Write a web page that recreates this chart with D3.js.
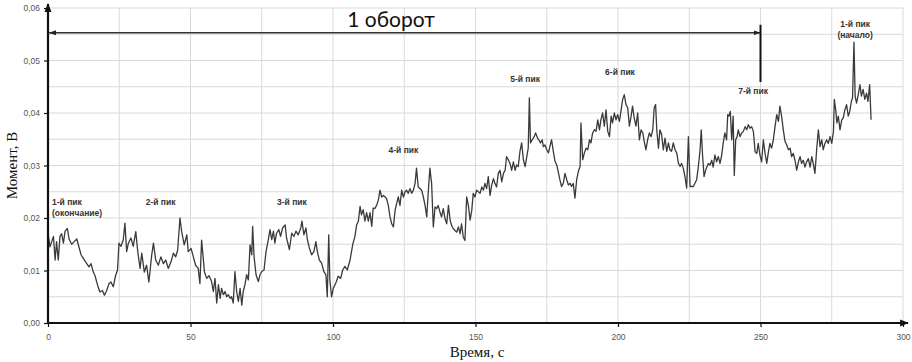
<!DOCTYPE html>
<html><head><meta charset="utf-8">
<script src="https://cdn.jsdelivr.net/npm/d3@7"></script>
<style>body{margin:0;background:#fff}svg{display:block}</style>
</head><body>
<script>
// ---- data ----
const times = [0.0,0.7,1.9,2.5,3.0,3.6,4.2,4.8,5.4,6.0,6.8,7.4,8.3,9.2,10.1,10.6,11.6,12.4,13.6,14.4,15.1,15.9,16.5,17.4,18.2,19.1,19.8,20.6,21.4,22.1,22.9,23.7,24.4,24.9,25.6,26.4,27.0,27.6,28.2,29.1,29.9,30.8,31.5,32.3,32.9,33.8,34.6,35.4,36.4,37.0,37.8,38.7,39.6,40.5,41.3,42.2,43.2,44.0,44.8,45.5,46.3,46.9,47.8,48.7,49.2,50.2,51.0,51.8,52.7,53.3,53.9,54.9,55.7,56.5,
57.4,58.0,58.6,59.2,59.8,60.4,60.9,61.5,62.1,62.7,63.3,63.9,64.4,65.0,65.6,66.2,66.8,67.4,68.0,68.5,69.1,69.7,70.3,70.9,71.5,71.8,72.3,73.0,73.8,74.4,75.0,75.8,76.5,77.3,77.9,78.5,79.1,79.6,80.2,81.0,81.6,82.3,83.2,83.7,84.7,85.5,86.3,87.0,87.8,88.7,89.1,89.8,90.5,91.0,91.7,92.5,93.3,94.0,94.5,95.2,96.0,96.8,97.5,98.0,98.5,98.9,99.5,100.1,100.7,101.2,101.8,102.7,103.4,104.2,105.0,106.0,106.9,107.7,108.3,108.9,109.5,110.0,110.6,111.2,111.8,112.4,113.0,113.6,114.1,
114.7,115.3,115.9,116.5,117.1,117.7,118.3,118.8,119.4,120.0,120.6,121.2,121.8,122.3,122.9,123.5,124.1,124.7,125.3,125.8,126.4,127.0,127.6,128.2,128.8,129.3,129.9,130.5,131.1,131.7,132.3,132.9,133.4,134.0,134.6,135.2,135.8,136.4,136.9,137.5,138.1,138.7,139.3,139.9,140.5,141.1,141.6,142.2,142.8,143.4,144.0,144.6,145.1,145.7,146.3,146.9,147.5,148.1,148.7,149.2,149.8,150.4,151.0,151.6,152.2,152.8,153.3,153.9,154.5,155.1,155.7,156.3,156.8,157.4,158.0,158.6,159.2,159.8,160.4,160.9,161.5,162.1,162.7,163.3,163.9,164.4,165.0,165.6,166.2,166.8,167.4,168.0,168.5,168.9,169.3,169.9,170.6,171.1,171.8,172.2,172.8,173.4,
173.8,174.4,175.0,175.6,176.1,176.7,177.3,177.9,178.5,179.0,179.6,180.2,180.8,181.4,182.0,182.6,183.2,183.7,184.3,184.9,185.5,186.1,186.7,187.0,187.6,188.2,188.8,189.4,190.0,190.5,191.1,191.7,192.3,192.9,193.5,194.0,194.6,195.2,195.8,196.4,197.0,197.6,198.1,198.7,199.3,199.9,200.5,201.1,201.6,202.2,202.8,203.4,204.0,204.6,205.1,205.7,206.3,206.9,207.5,208.1,208.7,209.2,209.8,210.4,211.0,211.6,212.2,212.7,213.2,213.6,214.2,214.7,215.3,215.9,216.5,217.1,217.7,218.2,218.8,219.4,220.0,220.6,221.2,221.8,222.3,222.9,223.5,224.1,224.7,225.3,225.8,226.4,227.0,227.6,228.2,228.8,229.2,229.7,230.2,230.8,
231.7,232.3,232.9,233.4,234.0,234.6,235.2,235.8,236.4,236.9,237.5,238.1,238.5,238.9,239.4,239.9,240.4,240.8,241.3,241.8,242.2,242.8,243.4,244.0,244.6,245.2,245.7,246.3,246.9,247.5,248.1,248.7,249.2,249.8,250.4,251.0,251.6,252.2,252.7,253.3,253.9,254.5,255.1,255.7,256.3,256.8,257.4,258.0,258.6,259.2,259.8,260.4,260.9,261.5,262.1,262.7,263.3,263.9,264.4,265.0,265.6,266.2,266.8,267.4,268.0,268.5,269.1,269.7,270.3,270.9,271.5,272.0,272.6,273.2,273.8,274.4,275.0,275.6,275.9,276.4,276.8,277.3,277.9,278.5,279.0,279.6,280.2,280.8,281.3,281.9,282.3,282.8,283.2,283.7,284.3,284.9,285.4,286.0,286.6,287.2,287.7,288.3,288.8];

const moment = [.0171,.0145,.0165,.0120,.0155,.0120,.0165,.0170,.0152,.0175,.0180,.0160,.0150,.0155,.0160,.0150,.0130,.0123,.0113,.0107,.0113,.0097,.0090,.0072,.0059,.0062,.0053,.0062,.0075,.0078,.0069,.0090,.0101,.0152,.0146,.0158,.0190,.0136,.0152,.0162,.0146,.0174,.0136,.0104,.0133,.0097,.0110,.0078,.0130,.0152,.0120,.0110,.0126,.0113,.0120,.0104,.0117,.0133,.0126,.0139,.0200,.0174,.0149,.0168,.0136,.0142,.0126,.0110,.0104,.0075,.0158,.0097,.0085,.0090,
.0079,.0060,.0085,.0038,.0073,.0047,.0066,.0054,.0060,.0050,.0054,.0047,.0050,.0038,.0098,.0060,.0041,.0066,.0034,.0060,.0073,.0092,.0082,.0149,.0130,.0184,.0127,.0092,.0079,.0092,.0098,.0101,.0136,.0159,.0178,.0159,.0175,.0152,.0171,.0178,.0165,.0181,.0187,.0162,.0140,.0171,.0165,.0175,.0168,.0181,.0194,.0168,.0181,.0159,.0143,.0130,.0136,.0155,.0136,.0120,.0114,.0098,.0092,.0050,.0168,.0082,.0050,.0066,.0073,.0079,.0089,.0085,.0101,.0108,.0101,.0120,.0149,.0165,.0187,.0194,.0222,.0206,.0216,.0194,.0210,.0194,.0210,.0184,.0219,
.0218,.0224,.0234,.0253,.0240,.0243,.0240,.0237,.0224,.0202,.0189,.0183,.0215,.0227,.0240,.0224,.0253,.0240,.0250,.0253,.0247,.0256,.0247,.0253,.0266,.0295,.0259,.0256,.0253,.0240,.0224,.0202,.0247,.0295,.0266,.0183,.0221,.0218,.0224,.0212,.0202,.0218,.0199,.0189,.0224,.0196,.0186,.0180,.0176,.0173,.0183,.0170,.0189,.0164,.0157,.0240,.0224,.0196,.0215,.0247,.0240,.0253,.0250,.0247,.0259,.0253,.0266,.0256,.0279,.0243,.0263,.0275,.0266,.0259,.0285,.0291,.0269,.0285,.0291,.0317,.0311,.0304,.0291,.0307,.0291,.0301,.0298,.0327,.0343,.0311,.0298,.0317,.0333,.0429,.0343,.0349,.0355,.0362,.0352,.0349,.0343,.0349,
.0336,.0339,.0330,.0324,.0336,.0349,.0327,.0308,.0301,.0289,.0273,.0260,.0266,.0285,.0273,.0263,.0266,.0260,.0266,.0238,.0273,.0289,.0298,.0381,.0311,.0324,.0333,.0330,.0349,.0343,.0362,.0368,.0365,.0387,.0368,.0387,.0400,.0375,.0406,.0365,.0355,.0394,.0381,.0400,.0387,.0397,.0384,.0406,.0425,.0435,.0416,.0410,.0375,.0394,.0413,.0390,.0375,.0400,.0349,.0368,.0362,.0346,.0330,.0349,.0362,.0355,.0368,.0410,.0416,.0368,.0333,.0368,.0359,.0330,.0352,.0327,.0343,.0330,.0327,.0343,.0330,.0324,.0304,.0298,.0304,.0295,.0279,.0257,.0355,.0260,.0260,.0260,.0266,.0273,.0298,.0330,.0368,.0317,.0279,.0292,
.0304,.0301,.0310,.0297,.0320,.0307,.0317,.0304,.0320,.0342,.0362,.0349,.0397,.0394,.0403,.0349,.0394,.0281,.0349,.0355,.0368,.0355,.0362,.0365,.0374,.0368,.0378,.0371,.0374,.0365,.0326,.0323,.0342,.0320,.0307,.0349,.0323,.0304,.0323,.0342,.0333,.0349,.0374,.0397,.0384,.0413,.0394,.0368,.0346,.0339,.0330,.0333,.0317,.0323,.0310,.0291,.0307,.0317,.0304,.0310,.0297,.0307,.0313,.0297,.0317,.0304,.0285,.0330,.0368,.0336,.0349,.0330,.0342,.0349,.0342,.0355,.0342,.0365,.0426,.0406,.0381,.0394,.0368,.0387,.0390,.0406,.0416,.0394,.0403,.0422,.0429,.0535,.0432,.0419,.0435,.0454,.0432,.0445,.0426,.0438,.0422,.0454,.0387];

const xTicks = [0,50,100,150,200,250,300];
const yTicks = [0,0.01,0.02,0.03,0.04,0.05,0.06];
const peakLabels = ["1-й пик", "2-й пик", "3-й пик", "4-й пик", "5-й пик", "6-й пик", "7-й пик", "1-й пик"];
const peakSub = ["(окончание)", "", "", "", "", "", "", "(начало)"];
const peakT = [1.4, 39.5, 85.6, 124.7, 167.4, 200.7, 247.4, 283.2];
const peakV = [0.0225, 0.0225, 0.0225, 0.0323, 0.0459, 0.0472, 0.0437, 0.0563];
const revolution = {label: "1 оборот", from: 0, to: 250, level: 0.0553};

// ---- layout ----
const W = 912, H = 362;
const svg = d3.select("body").append("svg").attr("width", W).attr("height", H);
const x = d3.scaleLinear().domain([0, 300]).range([48, 903]);
const y = d3.scaleLinear().domain([0, 0.06]).range([323, 8]);

// grid
const g = svg.append("g");
g.selectAll("line.h").data(d3.range(1, 13).map(i => i * 0.005)).join("line")
  .attr("x1", x(0)).attr("x2", x(300)).attr("y1", d => y(d)).attr("y2", d => y(d))
  .attr("stroke", "#d9d9d9").attr("stroke-width", 1);
g.selectAll("line.v").data(d3.range(1, 13).map(i => i * 25)).join("line")
  .attr("y1", y(0)).attr("y2", y(0.06)).attr("x1", d => x(d)).attr("x2", d => x(d))
  .attr("stroke", "#d9d9d9").attr("stroke-width", 1);

// series
const pts = times.map((t, i) => [t, moment[i]]);
svg.append("path").datum(pts)
  .attr("fill", "none").attr("stroke", "#3a3a3a").attr("stroke-width", 1.3)
  .attr("stroke-linejoin", "round")
  .attr("d", d3.line().x(d => x(d[0])).y(d => y(d[1])));

// markers
const defs = svg.append("defs");
defs.append("marker").attr("id", "ax").attr("viewBox", "0 0 10 10").attr("refX", 9).attr("refY", 5)
  .attr("markerWidth", 4).attr("markerHeight", 4).attr("orient", "auto")
  .append("path").attr("d", "M0,1L10,5L0,9Z").attr("fill", "#111");
defs.append("marker").attr("id", "ar").attr("viewBox", "0 0 10 10").attr("refX", 10).attr("refY", 5)
  .attr("markerWidth", 7).attr("markerHeight", 7).attr("markerUnits", "userSpaceOnUse").attr("orient", "auto-start-reverse")
  .append("path").attr("d", "M0,1.5L10,5L0,8.5Z").attr("fill", "#222");

// axes
const yAxis = d3.axisLeft(y).tickValues(yTicks).tickSize(4).tickPadding(4)
  .tickFormat(d => d3.format(".2f")(d).replace(".", ","));
const xAxis = d3.axisBottom(x).tickValues(xTicks).tickSize(4).tickPadding(7).tickFormat(d3.format("d"));
const ya = svg.append("g").attr("transform", `translate(${x(0)},0)`).call(yAxis);
const xa = svg.append("g").attr("transform", `translate(0,${y(0)})`).call(xAxis);
[ya, xa].forEach(a => {
  a.select(".domain").remove();
  a.selectAll(".tick line").attr("stroke", "#111").attr("stroke-width", 1.2);
  a.selectAll("text").attr("font-family", "Liberation Sans, Arial, sans-serif").attr("font-size", 8.5).attr("fill", "#555");
});
svg.append("line").attr("x1", x(0)).attr("y1", y(0) + 1).attr("x2", x(0)).attr("y2", 4)
  .attr("stroke", "#111").attr("stroke-width", 2.2).attr("marker-end", "url(#ax)");
svg.append("line").attr("x1", x(0) - 1).attr("y1", y(0)).attr("x2", 908).attr("y2", y(0))
  .attr("stroke", "#111").attr("stroke-width", 2.2).attr("marker-end", "url(#ax)");

// axis titles
svg.append("text").attr("transform", `translate(17,${(y(0) + y(0.06)) / 2}) rotate(-90)`)
  .attr("text-anchor", "middle").attr("font-family", "Liberation Serif, Times New Roman, serif")
  .attr("font-size", 15).attr("fill", "#111").text("Момент, В");
svg.append("text").attr("x", 477).attr("y", 357)
  .attr("text-anchor", "middle").attr("font-family", "Liberation Serif, Times New Roman, serif")
  .attr("font-size", 15).attr("fill", "#111").text("Время, с");

// revolution arrow
svg.append("line").attr("x1", x(revolution.to)).attr("x2", x(revolution.from) + 1)
  .attr("y1", y(revolution.level)).attr("y2", y(revolution.level))
  .attr("stroke", "#333").attr("stroke-width", 1.5)
  .attr("marker-start", "url(#ar)").attr("marker-end", "url(#ar)");
svg.append("line").attr("x1", x(revolution.to)).attr("x2", x(revolution.to))
  .attr("y1", y(0.0568)).attr("y2", y(0.0459)).attr("stroke", "#111").attr("stroke-width", 2);
svg.append("text").attr("x", 391).attr("y", 27).attr("text-anchor", "middle")
  .attr("font-family", "Lato, Open Sans, sans-serif").attr("font-size", 21).attr("fill", "#111")
  .text(revolution.label);

// peak labels
peakLabels.forEach((lab, i) => {
  const anchor = i === 0 ? "start" : "middle";
  const t = svg.append("text").attr("x", x(peakT[i])).attr("y", y(peakV[i]))
    .attr("text-anchor", anchor).attr("font-family", "Liberation Sans, Arial, sans-serif")
    .attr("font-size", 8.5).attr("font-weight", "bold").attr("fill", "#333").text(lab);
  if (peakSub[i]) {
    svg.append("text").attr("x", x(peakT[i])).attr("y", y(peakV[i]) + 11)
      .attr("text-anchor", anchor).attr("font-family", "Liberation Sans, Arial, sans-serif")
      .attr("font-size", 8.5).attr("font-weight", "bold").attr("fill", "#333").text(peakSub[i]);
  }
});
</script>
</body></html>
